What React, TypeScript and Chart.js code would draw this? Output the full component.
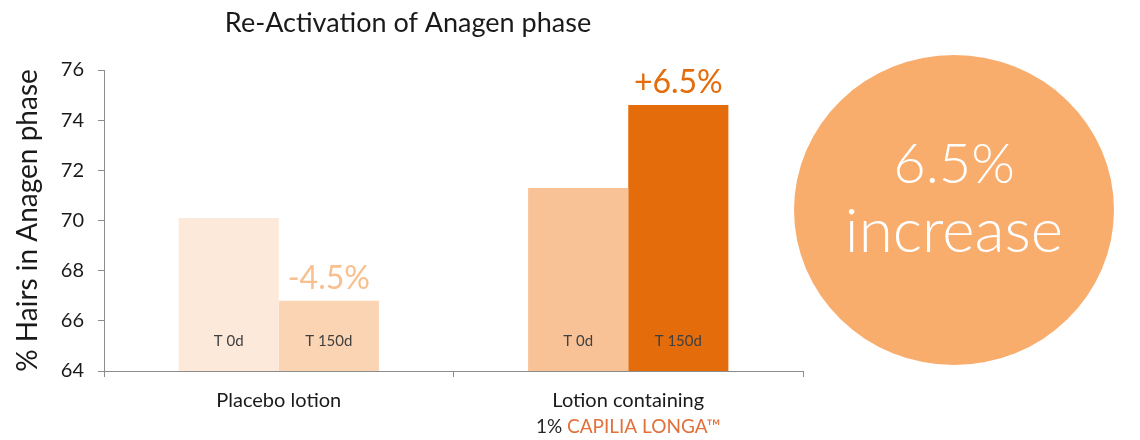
import React, { useEffect, useRef } from "react";
import { Chart, registerables } from "chart.js";

Chart.register(...registerables);

const chartTitle = "Re-Activation of Anagen phase";
const yAxisTitle = "% Hairs in Anagen phase";
const categories = ["Placebo lotion", "Lotion containing"];
const categorySubLines = [
  [],
  [
    { text: "1% ", color: "#262626" },
    { text: "CAPILIA LONGA™", color: "#E2703A" },
  ],
];
const seriesNames = ["T 0d", "T 150d"];
const t0Values = [70.1, 71.3];
const t150Values = [66.8, 74.6];
const t0Colors = ["#FDE9DA", "#F9C196"];
const t150Colors = ["#FBD4B4", "#E46C0A"];
const changeLabels = ["-4.5%", "+6.5%"];
const changeColors = ["#F7C08E", "#E46C0A"];
const yMin = 64;
const yMax = 76;
const yStep = 2;
const highlightLines = ["6.5%", "increase"];

const FONT = "Lato, 'Open Sans', sans-serif";

const overlayPlugin = {
  id: "overlay",
  afterDraw(chart: any) {
    const ctx = chart.ctx;
    const xs = chart.scales.x;
    const area = chart.chartArea;
    ctx.save();

    // title
    ctx.fillStyle = "#1a1a1a";
    ctx.font = `27px ${FONT}`;
    ctx.textAlign = "center";
    ctx.textBaseline = "alphabetic";
    ctx.fillText(chartTitle, 408, 32);

    // y axis title
    ctx.save();
    ctx.translate(28, (area.top + area.bottom) / 2);
    ctx.rotate(-Math.PI / 2);
    ctx.font = `28px ${FONT}`;
    ctx.textBaseline = "middle";
    ctx.fillText(yAxisTitle, 0, 0);
    ctx.restore();

    // category labels
    ctx.textBaseline = "middle";
    categories.forEach((c, i) => {
      const cx = xs.getPixelForValue(i);
      ctx.font = `20px ${FONT}`;
      ctx.fillStyle = "#1a1a1a";
      ctx.textAlign = "center";
      ctx.fillText(c, cx, 401);
      const parts = categorySubLines[i];
      if (parts.length) {
        ctx.font = `19px ${FONT}`;
        const total = parts.reduce((s, p) => s + ctx.measureText(p.text).width, 0);
        let x = cx - total / 2;
        ctx.textAlign = "left";
        parts.forEach((p) => {
          ctx.fillStyle = p.color;
          ctx.fillText(p.text, x, 427);
          x += ctx.measureText(p.text).width;
        });
      }
    });

    // bar inner labels + change labels
    chart.data.datasets.forEach((ds: any, di: number) => {
      const meta = chart.getDatasetMeta(di);
      meta.data.forEach((bar: any, i: number) => {
        ctx.fillStyle = "#404040";
        ctx.font = `15px ${FONT}`;
        ctx.textAlign = "center";
        ctx.textBaseline = "middle";
        ctx.fillText(ds.label, bar.x, 341);
        if (di === 1) {
          ctx.fillStyle = changeColors[i];
          ctx.font = `32px ${FONT}`;
          ctx.textBaseline = "alphabetic";
          ctx.fillText(changeLabels[i], bar.x, bar.y - 12);
        }
      });
    });

    // highlight circle
    ctx.beginPath();
    ctx.ellipse(954, 210, 160, 155, 0, 0, Math.PI * 2);
    ctx.fillStyle = "#F8AD6D";
    ctx.fill();
    ctx.fillStyle = "#ffffff";
    ctx.textAlign = "center";
    ctx.textBaseline = "alphabetic";
    ctx.font = `300 56px ${FONT}`;
    ctx.fillText(highlightLines[0], 954, 183);
    ctx.font = `300 62px ${FONT}`;
    ctx.fillText(highlightLines[1], 954, 252);

    ctx.restore();
  },
};

export default function App() {
  const ref = useRef<HTMLCanvasElement>(null);
  useEffect(() => {
    const chart = new Chart(ref.current as HTMLCanvasElement, {
      type: "bar",
      data: {
        labels: categories,
        datasets: [
          {
            label: seriesNames[0],
            data: t0Values,
            backgroundColor: t0Colors,
            categoryPercentage: 0.573,
            barPercentage: 1,
          },
          {
            label: seriesNames[1],
            data: t150Values,
            backgroundColor: t150Colors,
            categoryPercentage: 0.573,
            barPercentage: 1,
          },
        ],
      },
      options: {
        animation: false,
        responsive: false,
        layout: { padding: { top: 70, right: 337, left: 0, bottom: 0 } },
        plugins: {
          legend: { display: false },
          tooltip: { enabled: false },
          title: { display: false },
        },
        scales: {
          x: {
            offset: true,
            grid: {
              offset: true,
              drawOnChartArea: false,
              drawTicks: true,
              tickLength: 6,
              color: "#8c8c8c",
            },
            border: { color: "#8c8c8c", width: 1 },
            ticks: { display: false },
            afterFit: (s: any) => {
              s.height = 69;
            },
          },
          y: {
            min: yMin,
            max: yMax,
            ticks: {
              stepSize: yStep,
              color: "#1a1a1a",
              font: { family: FONT, size: 20 },
              padding: 14,
            },
            grid: {
              drawOnChartArea: false,
              drawTicks: true,
              tickLength: 6,
              color: "#8c8c8c",
            },
            border: { color: "#8c8c8c", width: 1 },
            afterFit: (s: any) => {
              s.width = 104;
            },
          },
        },
      },
      plugins: [overlayPlugin],
    } as any);
    return () => chart.destroy();
  }, []);
  return (
    <div style={{ position: "fixed", left: 0, top: 0, width: 1140, height: 440, background: "#fff" }}>
      <canvas ref={ref} width={1140} height={440} />
    </div>
  );
}
